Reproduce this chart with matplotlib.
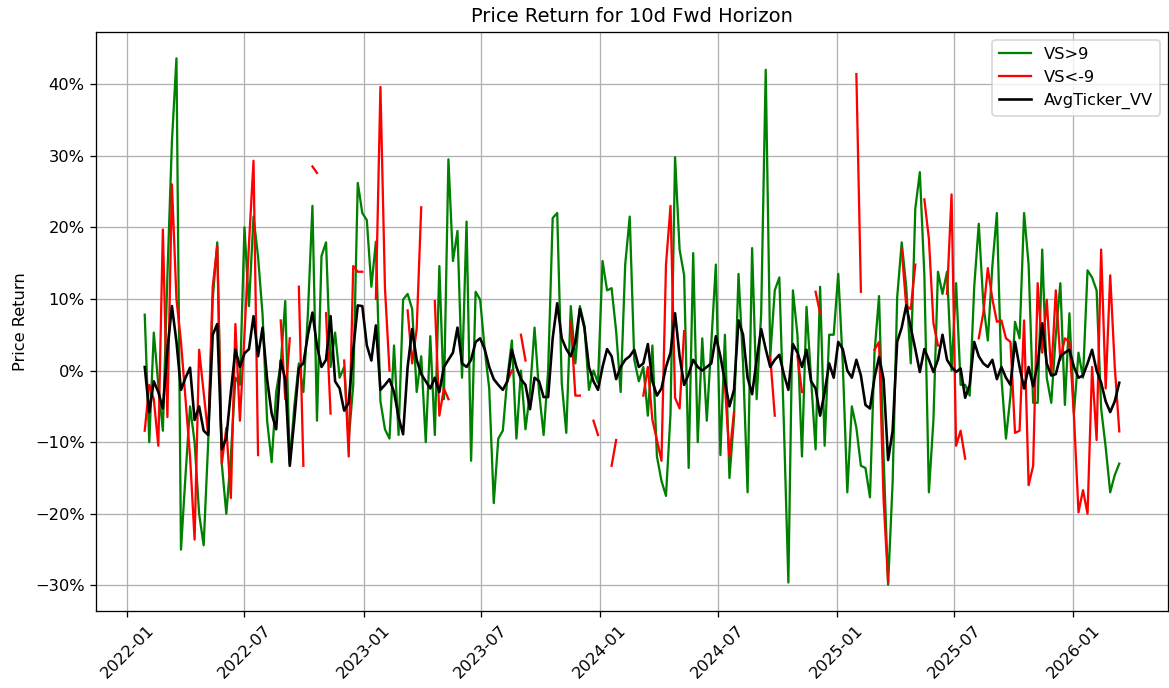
"""Price return for 10d forward horizon: VS>9, VS<-9 and the average ticker."""

import numpy as np
import pandas as pd
import matplotlib
matplotlib.use('Agg')
import matplotlib.pyplot as plt
from matplotlib.ticker import PercentFormatter

n = np.nan

# weekly samples (Fridays), in percent
dates = pd.date_range('2022-01-28', periods=216, freq='7D')

vs_pos = [
    7.8, -10, 5.3, -2, -8.4, 13.2, 32, 43.6, -25, -14.6, -5, -10,
    -20, -24.4, -10, 10, 17.9, -13, -20, -12, -1, -2, 20, 9,
    21.5, 15.9, 7.8, -7, -12.8, -3, 0.9, 9.7, -13, -5, 1, -3,
    8, 23, -7, 16, 17.9, 0.5, 5.3, -1, 0.5, -9.7, -2, 26.2,
    22, 21, 11.7, 18, -4.3, -8.2, -9.5, 3.5, -9, 9.9, 10.7, 8.6,
    -3, 2, -10, 4.8, -9, 14.6, -4, 29.5, 15.3, 19.5, -1, 20.8,
    -12.6, 11, 9.9, 3, -2.5, -18.5, -9.5, -8.4, -1, 4.2, -9.5, 0,
    -8.2, -3, 6, -3, -9, 0, 21.3, 22, -1.7, -8.7, 9, 1,
    9, 6.3, -2.7, 0, -1.7, 15.3, 11.2, 11.5, 5.5, -3, 14.8, 21.5,
    1.5, -1.5, 0.5, -6.3, 3.5, -12, -15.4, -17.5, -6, 29.8, 16.9, 13.3,
    -13.6, 16.4, -10, 4.5, -7, 4, 14.8, -11.8, 5, -15, -6.6, 13.5,
    1, -17, 17.1, -4, 8, 42, 2, 11.2, 13, -7.4, -29.6, 11.2,
    5, -12, 8.9, -1, -11, 11.7, -10.5, 5, 5, 13.5, 1, -17,
    -5, -8, -13.3, -13.6, -17.7, 2.5, 10.4, -12, -29.9, -15.6, 10.2, 17.9,
    11.7, 1, 22.6, 27.7, 13.3, -17, -6.9, 13.8, 10.7, 13.8, 0, 12.2,
    -2, -2, -3.5, 11.7, 20.5, 9.4, 4.2, 14.6, 22, -1, -9.5, -3.5,
    6.8, 4.5, 22, 14.8, -4.5, -4.5, 16.9, -1, -4.5, 5, 12.2, -4.8,
    8, -6, 2.5, -1, 14, 13, 11.2, -5.3, -10.7, -17, -14.6, -13,
]

vs_neg = [
    -8.4, -2, -4, -10.5, 19.7, -6.5, 26, 10, 4, -4, -12, -23.6,
    2.9, -3, -9, 11.7, 17.4, -13, -8, -17.8, 6.5, -7, 5, 17.7,
    29.3, -11.8, n, n, n, n, 7, -4, 4.5, n, 11.7, -13.3,
    n, 28.5, 27.6, n, 8, -6, n, n, 1.4, -12, 14.6, 13.8,
    13.8, n, n, 10, 39.6, 11.5, 0, n, n, n, 8.4, 1,
    5.8, 22.8, n, n, 9.7, -6.3, -2.5, -4, n, n, n, n,
    n, n, n, n, n, n, n, n, -1.5, 0, n, 5,
    1.4, n, n, n, n, n, n, n, n, n, 6.8, -3.5,
    -3.5, n, n, -7, -9, n, n, -13.3, -9.7, n, n, n,
    n, n, -3.5, 0.5, -6.9, -9.7, -12.6, 14.8, 23, -3.8, -5.3, 5.5,
    n, n, n, n, n, n, n, n, -2, -12, -5.8, n,
    n, n, n, n, n, n, 1.9, -6.3, n, n, n, n,
    2, -3, n, n, 11, 8, n, n, n, n, n, n,
    n, 41.4, 11, n, n, 2.9, 4, -18, -29.5, n, n, 16.9,
    9, 8.6, 14.8, n, 23.9, 18.4, 6.6, 3.5, n, 10.7, 24.6, -10.5,
    -8.4, -12.3, n, n, 4.5, 8, 14.3, 10, 6.8, 7, 4.5, 4,
    -8.7, -8.4, 7, -16, -13.3, 12.2, 2.5, 9.9, -0.5, 11.2, 1.5, 4.5,
    4, -6.3, -19.8, -16.7, -20, 0.5, -9.7, 16.9, -2.5, 13.3, 0.6, -8.5,
]

avg_ticker = [
    0.5, -5.8, -1.5, -3, -5.3, 2.9, 9, 4, -2.7, -1, 0.4, -6.9,
    -5, -8.4, -9, 5, 6.5, -11, -9.4, -3, 2.9, 0.5, 2.4, 3,
    7.6, 2, 6, -1.2, -6, -8.2, 1.4, -1.2, -13.3, -6.9, 0.4, 1,
    5, 8.1, 3.5, 0.5, 1.5, 7.6, -1.5, -2.5, -5.6, -4.5, 2.9, 9.1,
    9, 3.5, 1.4, 6.3, -2.7, -2, -1.2, -3, -6.5, -8.9, 0.5, 5.8,
    1.5, -0.5, -1.5, -2.5, -1, -3, 0.5, 1.5, 2.5, 6, 1, 0.5,
    1.5, 4, 4.5, 3, 0.5, -1.2, -2, -2.7, -1.5, 2.9, 0.5, -1.2,
    -2, -5.4, -1, -1.5, -3.7, -3.7, 4.5, 9.4, 4.5, 3, 2, 4,
    8.6, 6, 0.5, -1.5, -2.7, 0.5, 3, 2, -1.2, 0.5, 1.5, 2,
    2.9, 0.5, 1, 3.7, -1.5, -3.5, -2.5, 0.5, 2.5, 8, 2, -2,
    -0.5, 1.5, 0.5, 0, 0.5, 1, 4.8, 2, -1.5, -5, -2.7, 7,
    5, -1, -3.3, 1.5, 5.8, 3, 0.5, 1.5, 2.2, -0.5, -2.7, 3.7,
    2.5, 0.5, 2.9, -1.5, -2.5, -6.3, -3, 1, -1, 4, 3, 0,
    -1, 1.5, -0.7, -4.8, -5.3, -1, 1.9, -1.2, -12.5, -8.4, 4, 6,
    9.1, 6, 3, -0.2, 3, 1.5, -0.2, 1.5, 5, 1.5, 0.5, -0.2,
    0.3, -3.8, -2, 4, 2, 1, 0.5, 1.5, -1.2, 0.5, -1, -2,
    4, 0.5, -2.5, 0.5, -2.2, 1, 6.6, 1, -0.7, -0.5, 2, 2.5,
    2.9, 0.5, -1, -0.7, 1, 2.9, 0, -1.7, -4.3, -5.8, -4.3, -1.7,
]

df = pd.DataFrame({
    'VS>9': np.array(vs_pos, dtype=float) / 100,
    'VS<-9': np.array(vs_neg, dtype=float) / 100,
    'AvgTicker_VV': np.array(avg_ticker, dtype=float) / 100,
}, index=dates)

# 1169x688 px at 117 dpi
fig, ax = plt.subplots(figsize=(1169/117, 688/117), dpi=117)
fig.subplots_adjust(left=96/1169, right=1168/1169, top=1-32/688, bottom=1-611/688)

ax.plot(df.index, df['VS>9'], color='green', lw=1.4, label='VS>9')
ax.plot(df.index, df['VS<-9'], color='red', lw=1.4, label='VS<-9')
ax.plot(df.index, df['AvgTicker_VV'], color='black', lw=1.6, label='AvgTicker_VV')

ax.yaxis.set_major_formatter(PercentFormatter(xmax=1, decimals=0))
ax.set_title('Price Return for 10d Fwd Horizon')
ax.set_ylabel('Price Return')
ax.grid(True)
ax.legend(loc='upper right')
plt.setp(ax.get_xticklabels(), rotation=45)

fig.savefig('out.png', dpi=117)
